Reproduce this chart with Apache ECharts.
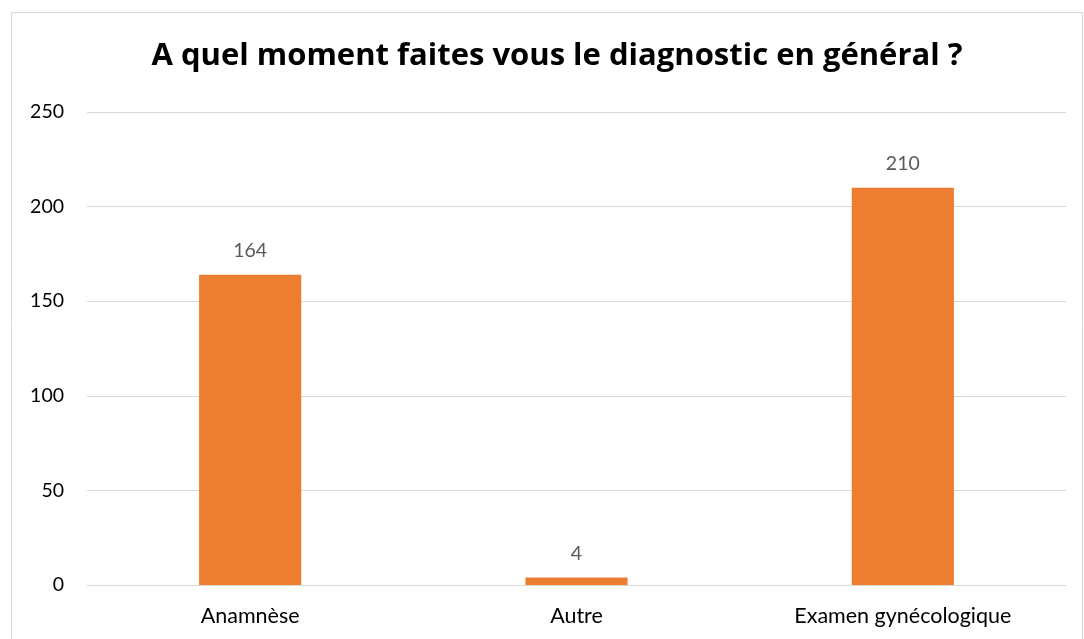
<!DOCTYPE html>
<html>
<head>
<meta charset="utf-8">
<script src="https://cdn.jsdelivr.net/npm/echarts@6/dist/echarts.min.js"></script>
<style>
html,body{margin:0;padding:0;background:#fff;}
#c{width:1084px;height:639px;}
</style>
</head>
<body>
<div id="c"></div>
<script>
const titleText = "A quel moment faites vous le diagnostic en général ?";
const categories = ["Anamnèse", "Autre", "Examen gynécologique"];
const values = [164, 4, 210];
const yTicks = [0, 50, 100, 150, 200, 250];

const chart = echarts.init(document.getElementById('c'), null, {renderer: 'canvas'});
const font = "Lato, 'Open Sans', sans-serif";
chart.setOption({
  backgroundColor: '#fff',
  animation: false,
  title: {
    text: titleText,
    left: 552, top: 36, textAlign: 'center',
    textStyle: {fontFamily: "'Open Sans', sans-serif", fontWeight: 'bold', fontSize: 31, color: '#000'}
  },
  graphic: [{
    type: 'rect', silent: true,
    shape: {x: 11.5, y: 12.5, width: 1071, height: 640},
    style: {fill: 'none', stroke: '#d9d9d9', lineWidth: 1}
  }],
  grid: {left: 87, right: 18, top: 112, bottom: 54},
  xAxis: {
    type: 'category', data: categories,
    axisLine: {show: true, lineStyle: {color: '#d9d9d9', width: 1}},
    axisTick: {show: false},
    axisLabel: {fontFamily: font, fontSize: 21.5, color: '#000', margin: 20}
  },
  yAxis: {
    type: 'value', min: yTicks[0], max: yTicks[yTicks.length - 1], interval: 50,
    axisLine: {show: false}, axisTick: {show: false},
    splitLine: {lineStyle: {color: '#d9d9d9', width: 1}},
    axisLabel: {fontFamily: font, fontSize: 19.5, color: '#000', margin: 23}
  },
  series: [{
    type: 'bar', data: values, barWidth: '31.3%',
    itemStyle: {color: '#ED7D31'},
    label: {show: true, position: 'top', distance: 14, fontFamily: font, fontSize: 19.5, color: '#595959'}
  }]
});
</script>
</body>
</html>
